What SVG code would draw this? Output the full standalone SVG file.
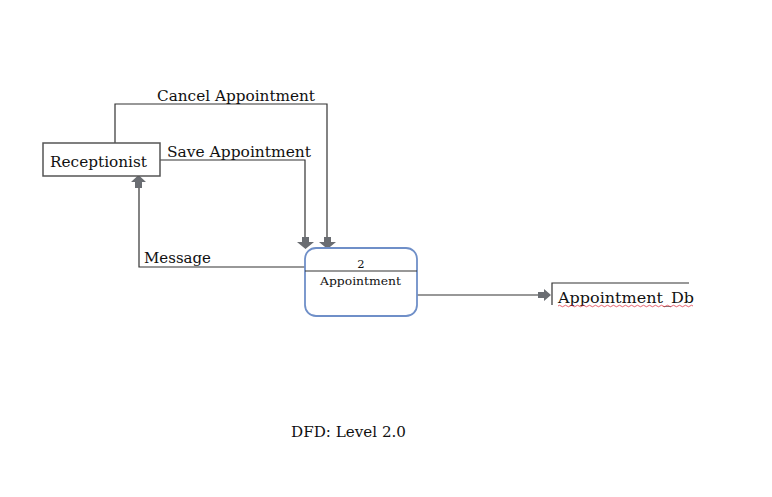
<svg xmlns="http://www.w3.org/2000/svg" width="772" height="497" viewBox="0 0 772 497">
<style>
text{font-family:"DejaVu Serif","Liberation Serif",serif;fill:#111}
.ln{fill:none;stroke:#333;stroke-width:1.2}
.ah{fill:#6a6d72}
</style>
<rect width="772" height="497" fill="#fff"/>
<g id="connectors">
<path class="ln" d="M115,143 V104 H327 V239"/>
<path class="ln" d="M160,160 H305 V239"/>
<path class="ln" d="M305,267 H139 V186"/>
<path class="ln" d="M417,295 H540"/>
<path class="ah" d="M302,237 h7 v5 h5 l-8.5,7 l-8.5,-7 h5 z"/>
<path class="ah" d="M324,237 h7 v5 h5 l-8.5,7 l-8.5,-7 h5 z"/>
<path class="ah" d="M135,188 h7 v-6 h4 l-7.5,-7 l-7.5,7 h4 z"/>
<path class="ah" d="M538,292 h6 v-3 l7,6 l-7,6 v-3 h-6 z"/>
<text x="157" y="101" font-size="14.5" textLength="158" lengthAdjust="spacingAndGlyphs">Cancel Appointment</text>
<text x="167" y="157" font-size="14.5" textLength="144" lengthAdjust="spacingAndGlyphs">Save Appointment</text>
<text x="144" y="263" font-size="14.5" textLength="67" lengthAdjust="spacingAndGlyphs">Message</text>
</g>
<g id="receptionist">
<rect x="43" y="143" width="117" height="33" fill="#fff" stroke="#555" stroke-width="1.5"/>
<text x="50" y="167" font-size="14.5" textLength="97" lengthAdjust="spacingAndGlyphs">Receptionist</text>
</g>
<g id="process2">
<rect x="305" y="248" width="112" height="68" rx="11" fill="#fff" stroke="#6f8fc8" stroke-width="1.8"/>
<line x1="305" y1="271" x2="417" y2="271" stroke="#333" stroke-width="1.2"/>
<text x="361" y="268" font-size="11.5" text-anchor="middle">2</text>
<text x="320" y="285" font-size="11.5" textLength="81" lengthAdjust="spacingAndGlyphs">Appointment</text>
</g>
<g id="appointment_db">
<path class="ln" d="M689,283 H552 V305"/>
<text x="558" y="303" font-size="14.5" textLength="136" lengthAdjust="spacingAndGlyphs">Appointment_Db</text>
<path d="M558,306 q1.5,-1.5 3,0 t3,0 t3,0 t3,0 t3,0 t3,0 t3,0 t3,0 t3,0 t3,0 t3,0 t3,0 t3,0 t3,0 t3,0 t3,0 t3,0 t3,0 t3,0 t3,0 t3,0 t3,0 t3,0 t3,0 t3,0 t3,0 t3,0 t3,0 t3,0 t3,0 t3,0 t3,0 t3,0 t3,0 t3,0 t3,0 t3,0 t3,0 t3,0 t3,0 t3,0 t3,0 t3,0 t3,0 t3,0" fill="none" stroke="#d23" stroke-width="0.7"/>
</g>
<text x="291" y="437" font-size="14.5" textLength="115" lengthAdjust="spacingAndGlyphs">DFD: Level 2.0</text>
</svg>
